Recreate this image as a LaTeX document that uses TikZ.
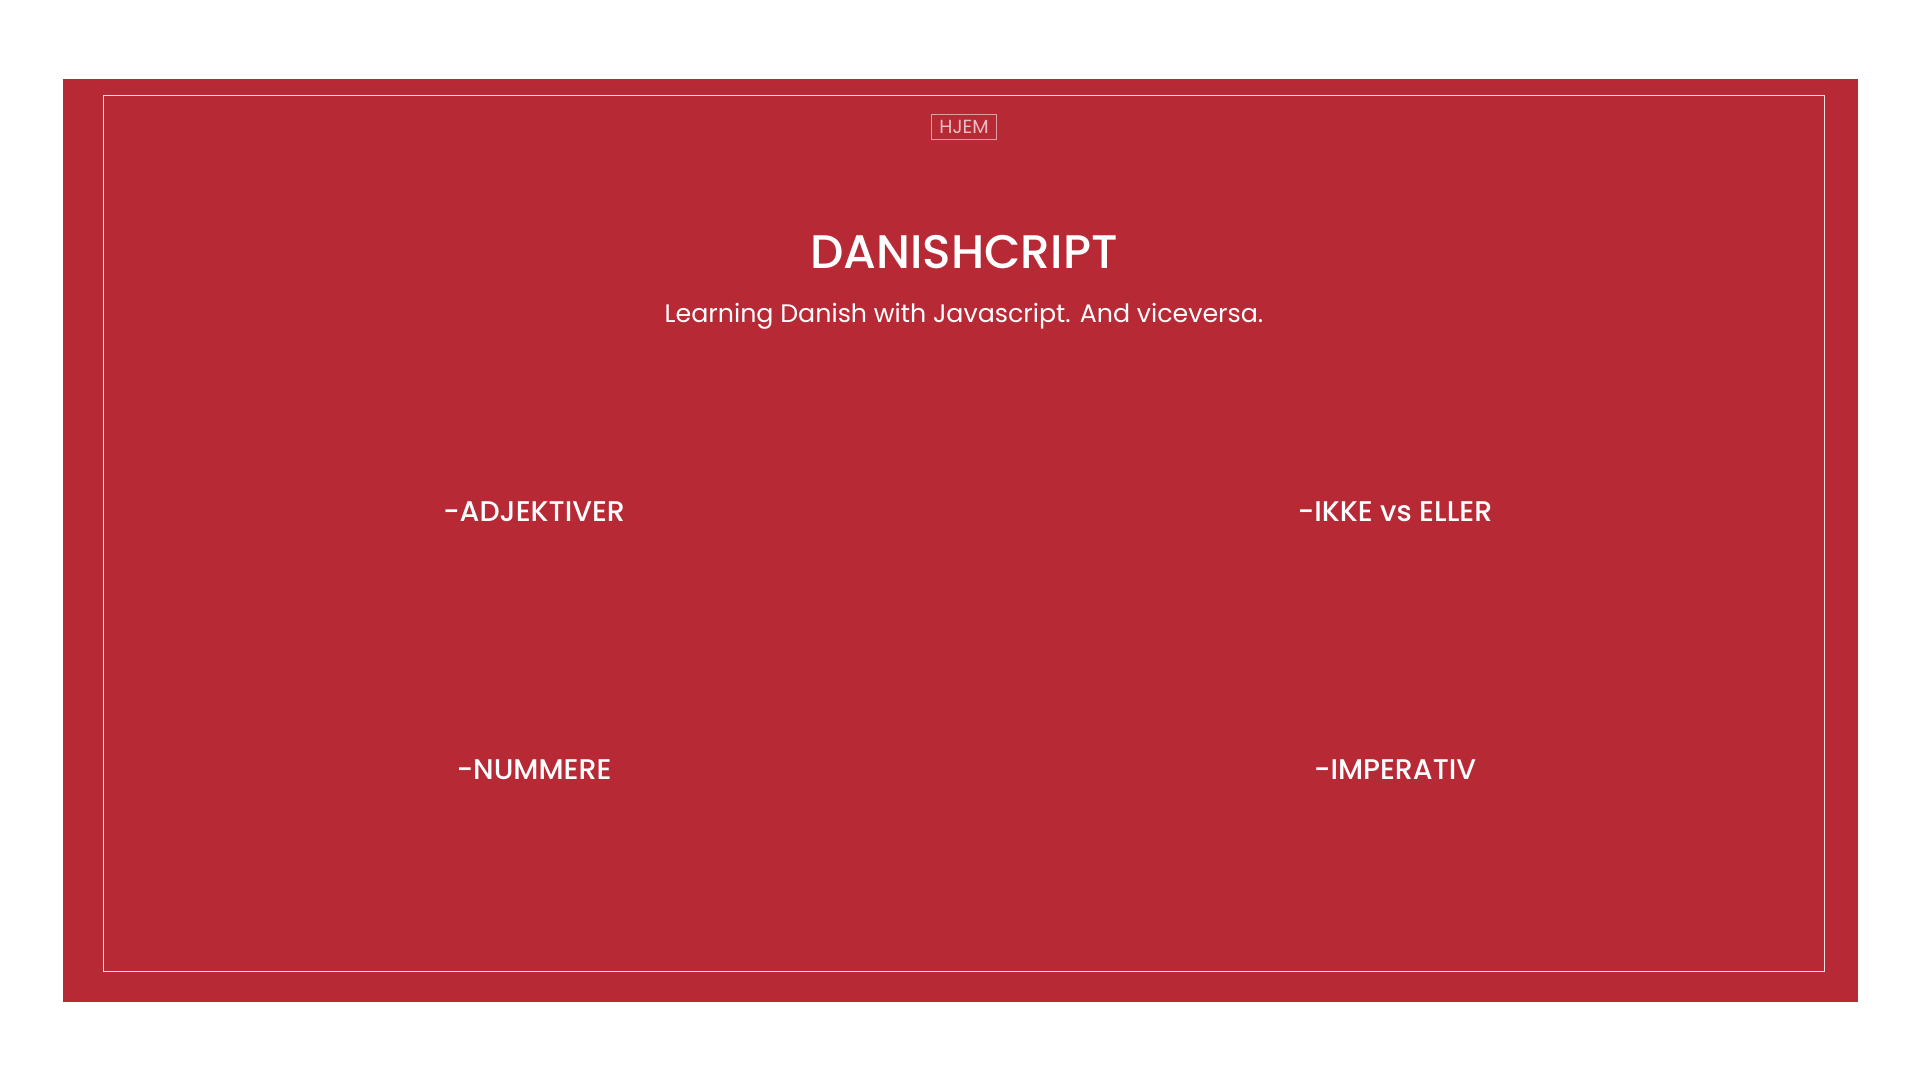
\documentclass[tikz,border=0pt]{standalone}
\usepackage{fontspec}
\setmainfont{Poppins}
\newfontfamily\medfont{Poppins Medium}
\definecolor{danred}{HTML}{B82936}
\begin{document}
\begin{tikzpicture}[x=0.1mm,y=-0.1mm]
	\tikzset{frame/.style = {draw=white, draw opacity=0.85, line width=0.28pt}}
	\tikzset{topic/.style = {text=white, font=\medfont\fontsize{8.1}{9}\selectfont, inner sep=0pt}}
	\useasboundingbox (0,0) rectangle (1920,1080);
	% Background and inner frame
	\fill[danred] (63,79) rectangle (1858,1002);
	\draw[frame] (103,95) rectangle (1824,971);
	% Header
	\node[draw=white, draw opacity=0.55, text=white, text opacity=0.7, line width=0.4pt, inner xsep=2.3pt, inner ysep=1.6pt, font=\fontsize{5.4}{6}\selectfont] (hjem) at (964,127) {HJEM};
	\node[text=white, font=\medfont\fontsize{13.4}{16}\selectfont, inner sep=0pt] (title) at (964,252) {DANISHCRIPT};
	\node[text=white, font=\fontsize{7.2}{9}\selectfont, inner sep=0pt] (subtitle) at (964,316) {Learning Danish with Javascript. And viceversa.};
	% Topics
	\node[topic] (adj) at (534,512) {-ADJEKTIVER};
	\node[topic] (ikke) at (1395,512) {-IKKE vs ELLER};
	\node[topic] (num) at (534,770) {-NUMMERE};
	\node[topic] (imp) at (1395,770) {-IMPERATIV};
\end{tikzpicture}
\end{document}
